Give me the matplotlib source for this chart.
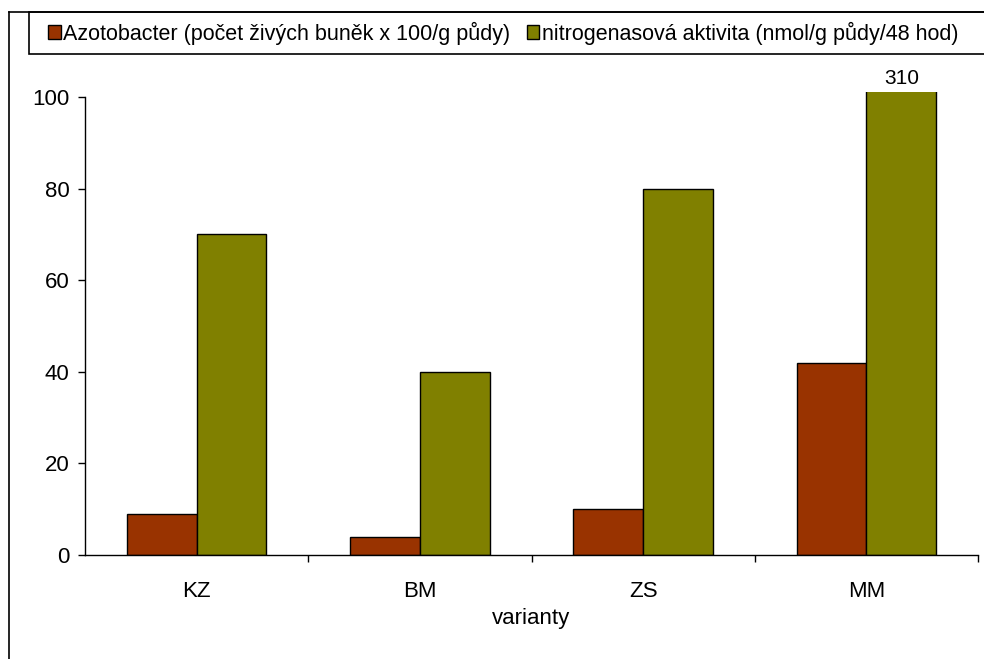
import numpy as np
import matplotlib.pyplot as plt
from matplotlib.patches import Rectangle
from matplotlib.lines import Line2D

plt.rcParams['font.family'] = ['Liberation Sans', 'DejaVu Sans']

# data
categories = ["KZ", "BM", "ZS", "MM"]
azotobacter = [9, 4, 10, 42]
nitrogenasa = [70, 40, 80, 310]
label_azot = "Azotobacter (počet živých buněk x 100/g půdy)"
label_nitro = "nitrogenasová aktivita (nmol/g půdy/48 hod)"

red = "#993300"
olive = "#808000"

W, H = 984, 659
fig = plt.figure(figsize=(W / 100, H / 100), dpi=100)

# axes placement in pixels
left, right, top, bottom = 85, 978, 92.4, 555
ax = fig.add_axes([left / W, 1 - bottom / H, (right - left) / W, (bottom - top) / H])

x = np.arange(len(categories)) + 0.5
bw = 0.3125
ax.bar(x - bw / 2, azotobacter, bw, color=red, edgecolor="black", linewidth=1, label=label_azot)
bars = ax.bar(x + bw / 2, nitrogenasa, bw, color=olive, edgecolor="black", linewidth=1, label=label_nitro)

ax.set_xlim(0, len(categories))
ax.set_ylim(0, 101)

# value label for bar going off the scale
for rect, v in zip(bars, nitrogenasa):
    if v > 100:
        ax.annotate(str(v), xy=(rect.get_x() + rect.get_width() / 2, 101),
                    xytext=(0, 3), textcoords="offset points",
                    ha="center", va="bottom", fontsize=15, annotation_clip=False)

for s in ["top", "right"]:
    ax.spines[s].set_visible(False)
ax.spines["left"].set_bounds(0, 100)
ax.spines["left"].set_linewidth(1)
ax.spines["bottom"].set_linewidth(1)

ax.set_yticks([0, 20, 40, 60, 80, 100])
ax.tick_params(axis="y", direction="out", length=5, width=1, labelsize=16, pad=6)

# ticks at category boundaries, labels at centres
ax.set_xticks(np.arange(1, len(categories) + 1))
ax.set_xticklabels([])
ax.set_xticks(x, minor=True)
ax.set_xticklabels(categories, minor=True)
ax.tick_params(axis="x", which="major", direction="out", length=5, width=1)
ax.tick_params(axis="x", which="minor", length=0, labelsize=16, pad=19)
ax.set_xlabel("varianty", fontsize=16, labelpad=4)

# outer frame (left + top edges visible)
fig.add_artist(Line2D([9 / W, 9 / W], [0, 1 - 12 / H], color="black", linewidth=1.2))
fig.add_artist(Line2D([9 / W, 1], [1 - 12 / H, 1 - 12 / H], color="black", linewidth=1.2))

# legend box
fig.add_artist(Rectangle((29 / W, 1 - 54 / H), 1, 42 / H, transform=fig.transFigure,
                         facecolor="white", edgecolor="black", linewidth=1.2))
fig.legend(loc="center left", bbox_to_anchor=(37 / W, 1 - 33 / H), ncol=2, frameon=False,
           fontsize=15.5, handlelength=0.6, handleheight=0.6, handletextpad=0.12,
           columnspacing=0.75, borderpad=0)

fig.savefig("out.png", dpi=100)
